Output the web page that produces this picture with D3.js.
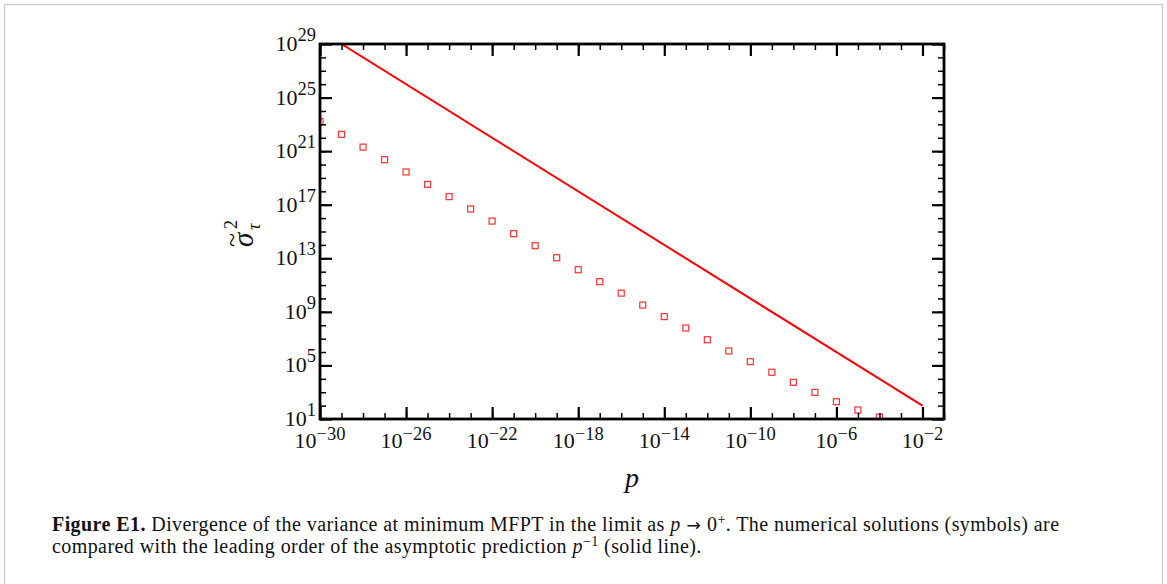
<!DOCTYPE html>
<html>
<head>
<meta charset="utf-8">
<script src="https://cdn.jsdelivr.net/npm/d3@7"></script>
<style>
    html, body { margin: 0; padding: 0; background: #fff; }
    svg { display: block; }
    .tick-label { font-family: "Liberation Serif", "DejaVu Serif", serif; fill: #111; }
    .caption { font-family: "Liberation Serif", serif; font-size: 20px; letter-spacing: 0.42px; fill: #111; }
</style>
</head>
<body>
<svg id="chart" width="1167" height="584"></svg>
<script>
// valores
const pValues = [1e-30, 1e-29, 1e-28, 1e-27, 1e-26, 1e-25, 1e-24, 1e-23, 1e-22,
    1e-21, 1e-20, 1e-19, 1e-18, 1e-17, 1e-16, 1e-15, 1e-14, 1e-13, 1e-12,
    1e-11, 1e-10, 1e-9, 1e-8, 1e-7, 1e-6, 1e-5, 1e-4];
const sigmaValues = [1.6e23, 1.8e22, 2.0e21, 2.3e20, 2.8e19, 3.3e18, 4.0e17, 4.8e16, 6.0e15,
    6.9e14, 8.7e13, 1.1e13, 1.4e12, 1.8e11, 2.5e10, 3.2e9, 4.4e8, 6.2e7, 8.3e6,
    1.2e6, 1.9e5, 3.1e4, 5.5e3, 980, 195, 47, 14];

// previsao assintotica p^-1
const lineP = [1e-29, 1e-2];
const lineSigma = [1e29, 1e2];

const xTickExps = [-30, -26, -22, -18, -14, -10, -6, -2];
const yTickExps = [1, 5, 9, 13, 17, 21, 25, 29];

const svg = d3.select("#chart");
const mLeft = 320, mRight = 944, mTop = 44, mBottom = 419;

const x = d3.scaleLog().domain([1e-30, 1e-1]).range([mLeft, mRight]);
const y = d3.scaleLog().domain([1e1, 1e29]).range([mBottom, mTop]);

// moldura cinza da figura
svg.append("rect")
    .attr("x", 4.5).attr("y", 4.5)
    .attr("width", 1158).attr("height", 620)
    .attr("fill", "none")
    .attr("stroke", "#cfcfcf")
    .attr("stroke-width", 1.5);

svg.append("clipPath").attr("id", "plotArea")
    .append("rect")
    .attr("x", mLeft).attr("y", mTop)
    .attr("width", mRight - mLeft).attr("height", mBottom - mTop);

const plot = svg.append("g").attr("clip-path", "url(#plotArea)");

plot.append("path")
    .datum(lineP.map((p, i) => [p, lineSigma[i]]))
    .attr("d", d3.line().x(d => x(d[0])).y(d => y(d[1])))
    .attr("fill", "none")
    .attr("stroke", "#ff0000")
    .attr("stroke-width", 2);

plot.selectAll("rect.mark")
    .data(pValues.map((p, i) => [p, sigmaValues[i]]))
    .enter()
    .append("rect")
    .attr("class", "mark")
    .attr("x", d => x(d[0]) - 3)
    .attr("y", d => y(d[1]) - 3)
    .attr("width", 6)
    .attr("height", 6)
    .attr("fill", "none")
    .attr("stroke", "#ff3030")
    .attr("stroke-width", 1.2);

// eixos com ticks para dentro
const xMinor = d3.range(-30, 0).map(e => Math.pow(10, e));
const yMinor = d3.range(1, 30).map(e => Math.pow(10, e));
const xMajor = xTickExps.map(e => Math.pow(10, e));
const yMajor = yTickExps.map(e => Math.pow(10, e));

function drawAxis(axisFn, scale, values, size, width, transform) {
    const g = svg.append("g")
        .attr("transform", transform)
        .call(axisFn(scale).tickValues(values).tickSize(size).tickFormat(""));
    g.select(".domain").remove();
    g.selectAll(".tick line").attr("stroke", "#000").attr("stroke-width", width);
    return g;
}

drawAxis(d3.axisBottom, x, xMinor, -6, 1.5, `translate(0,${mBottom})`);
drawAxis(d3.axisBottom, x, xMajor, -12, 2.2, `translate(0,${mBottom})`);
drawAxis(d3.axisTop, x, xMinor, -6, 1.5, `translate(0,${mTop})`);
drawAxis(d3.axisTop, x, xMajor, -12, 2.2, `translate(0,${mTop})`);
drawAxis(d3.axisLeft, y, yMinor, -6, 1.5, `translate(${mLeft},0)`);
drawAxis(d3.axisLeft, y, yMajor, -12, 2.2, `translate(${mLeft},0)`);
drawAxis(d3.axisRight, y, yMinor, -6, 1.5, `translate(${mRight},0)`);
drawAxis(d3.axisRight, y, yMajor, -12, 2.2, `translate(${mRight},0)`);

svg.append("rect")
    .attr("x", mLeft).attr("y", mTop)
    .attr("width", mRight - mLeft).attr("height", mBottom - mTop)
    .attr("fill", "none")
    .attr("stroke", "#000")
    .attr("stroke-width", 2.8);

// rotulos 10^n
function powerLabel(sel, exp, rise) {
    sel.append("tspan").attr("font-size", 22).text("10");
    sel.append("tspan").attr("font-size", 18.5).attr("dy", -rise)
        .text(exp < 0 ? "\u2212" + (-exp) : String(exp));
}

xTickExps.forEach(e => {
    const t = svg.append("text")
        .attr("class", "tick-label")
        .attr("x", x(Math.pow(10, e)))
        .attr("y", 448)
        .attr("text-anchor", "middle");
    powerLabel(t, e, 8);
});

yTickExps.forEach(e => {
    const t = svg.append("text")
        .attr("class", "tick-label")
        .attr("x", 316)
        .attr("y", y(Math.pow(10, e)) + 7)
        .attr("text-anchor", "end");
    powerLabel(t, e, 10);
});

// titulo do eixo x
svg.append("text")
    .attr("x", 632)
    .attr("y", 487)
    .attr("text-anchor", "middle")
    .attr("font-family", "Liberation Serif, serif")
    .attr("font-style", "italic")
    .attr("font-size", 28)
    .attr("fill", "#111")
    .text("p");

// titulo do eixo y (sigma til ao quadrado, indice tau)
const yt = svg.append("g")
    .attr("transform", "translate(253,247) rotate(-90)")
    .attr("font-family", "Liberation Serif, serif")
    .attr("font-style", "italic")
    .attr("fill", "#111");
yt.append("text").attr("x", 0).attr("y", 0).attr("font-size", 29).text("\u03c3");
yt.append("text").attr("x", 0).attr("y", -13).attr("font-size", 26)
    .attr("font-style", "normal").text("~");
yt.append("text").attr("x", 18).attr("y", -16).attr("font-size", 18)
    .attr("font-style", "normal").text("2");
yt.append("text").attr("x", 17).attr("y", 7).attr("font-size", 18).text("\u03c4");

// legenda
const cap1 = svg.append("text").attr("class", "caption").attr("x", 52).attr("y", 531);
cap1.append("tspan").attr("font-weight", "bold").text("Figure E1.");
cap1.append("tspan").text(" Divergence of the variance at minimum MFPT in the limit as ");
cap1.append("tspan").attr("font-style", "italic").text("p");
cap1.append("tspan").attr("font-family", "DejaVu Sans").attr("font-size", 17).text(" \u2192 ");
cap1.append("tspan").text("0");
cap1.append("tspan").attr("font-size", 14).attr("dy", -7).text("+");
cap1.append("tspan").attr("dy", 7).text(". The numerical solutions (symbols) are");

const cap2 = svg.append("text").attr("class", "caption").attr("x", 52).attr("y", 553);
cap2.append("tspan").text("compared with the leading order of the asymptotic prediction ");
cap2.append("tspan").attr("font-style", "italic").text("p");
cap2.append("tspan").attr("font-size", 14).attr("dy", -7).text("\u22121");
cap2.append("tspan").attr("dy", 7).text(" (solid line).");
</script>
</body>
</html>
